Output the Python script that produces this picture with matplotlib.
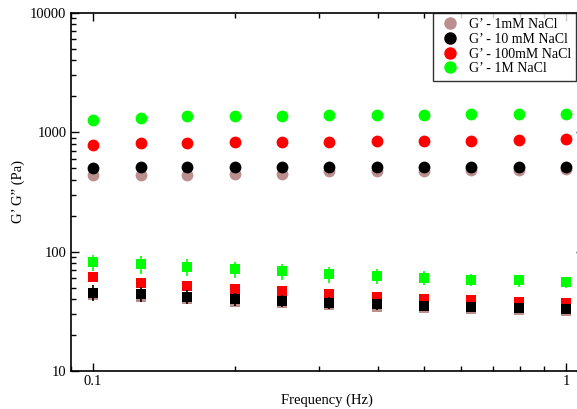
import numpy as np
import matplotlib

matplotlib.use("Agg")
import matplotlib.pyplot as plt
from matplotlib.lines import Line2D
from matplotlib.ticker import LogLocator, FuncFormatter, NullFormatter

plt.rcParams["font.family"] = ["Liberation Serif", "DejaVu Serif"]

# ---------------------------------------------------------------------------
# Data (frequency sweep, 10 points per decade)
# ---------------------------------------------------------------------------
freq = [0.1, 0.126, 0.158, 0.2, 0.251, 0.316, 0.398, 0.501, 0.631, 0.794, 1.0]

labels = ["G’ - 1mM NaCl", "G’ - 10 mM NaCl", "G’ - 100mM NaCl", "G’ - 1M NaCl"]
colors = ["#bc8f8f", "#000000", "#ff0000", "#00ff00"]

# storage modulus G' (circles)
g1_1mM = [434, 440, 440, 445, 450, 470, 470, 475, 480, 485, 490]
g1_10mM = [504, 510, 510, 510, 510, 510, 510, 510, 512, 512, 515]
g1_100mM = [774, 804, 814, 824, 834, 834, 840, 842, 850, 855, 868]
g1_1M = [1259, 1325, 1358, 1366, 1377, 1386, 1400, 1400, 1410, 1420, 1430]

g1_1mM_err = [15, 15, 15, 15, 15, 15, 15, 15, 15, 15, 15]
g1_10mM_err = [32, 30, 30, 30, 30, 30, 30, 30, 30, 30, 30]
g1_100mM_err = [20, 20, 20, 20, 20, 20, 20, 20, 20, 20, 20]
g1_1M_err = [60, 60, 60, 60, 60, 60, 60, 60, 60, 60, 60]

# loss modulus G'' (squares)
g2_1mM = [43, 42, 40, 38, 37, 35.5, 34.5, 33.5, 33, 32.5, 32]
g2_10mM = [45.3, 44.1, 41.9, 40.1, 38.8, 37.3, 36.1, 34.9, 34.3, 33.9, 33.2]
g2_100mM = [61.0, 54.8, 51.1, 49.0, 46.8, 44.0, 42.0, 40.0, 39.0, 38.0, 37.0]
g2_1M = [81.4, 78.0, 74.2, 70.8, 68.1, 64.6, 62.0, 60.6, 58.2, 57.3, 55.5]

g2_1mM_err = [3, 3, 3, 3, 3, 2.5, 2.5, 2.5, 2, 2, 2]
g2_10mM_err = [7, 6, 5.5, 5, 4.7, 4, 3.5, 3, 2.5, 2.5, 2]
g2_100mM_err = [3, 3, 3, 2.5, 2.5, 2.5, 2, 2, 2, 2, 2]
g2_1M_err = [12.5, 13, 12, 11, 10, 9.7, 9, 8, 7, 6.7, 6]

g1_sets = [(g1_1mM, g1_1mM_err), (g1_10mM, g1_10mM_err),
           (g1_100mM, g1_100mM_err), (g1_1M, g1_1M_err)]
g2_sets = [(g2_1mM, g2_1mM_err), (g2_10mM, g2_10mM_err),
           (g2_100mM, g2_100mM_err), (g2_1M, g2_1M_err)]
# G'' squares: black drawn over red
g2_zorder = [3, 5, 4, 4]


def main() -> None:
    fig = plt.figure(figsize=(5.77, 4.09), dpi=100)
    ax = fig.add_axes([70.7 / 577, 1 - 371 / 409, (584 - 70.7) / 577, (371 - 12.7) / 409])

    for (y, e), c in zip(g1_sets, colors):
        ax.errorbar(freq, y, yerr=e, fmt="o", color=c, ecolor=c, markersize=8.5,
                    markeredgewidth=0, elinewidth=1.2, capsize=5.0, capthick=1.2,
                    zorder=3)

    for (y, e), c, z in zip(g2_sets, colors, g2_zorder):
        ax.errorbar(freq, y, yerr=e, fmt="s", color=c, ecolor=c, markersize=7.5,
                    markeredgewidth=0, elinewidth=1.2, capsize=4.0, capthick=1.2,
                    zorder=z)

    ax.set_xscale("log")
    ax.set_yscale("log")
    ax.set_xlim(0.0897, 10 ** ((584 - 566) / 473))
    ax.set_ylim(10, 10000)

    fmt = FuncFormatter(lambda v, p: f"{v:g}")
    ax.xaxis.set_major_formatter(fmt)
    ax.yaxis.set_major_formatter(fmt)
    ax.xaxis.set_minor_locator(LogLocator(base=10, subs=np.arange(2, 10)))
    ax.yaxis.set_minor_locator(LogLocator(base=10, subs=np.arange(2, 10)))
    ax.xaxis.set_minor_formatter(NullFormatter())
    ax.yaxis.set_minor_formatter(NullFormatter())

    ax.tick_params(which="both", direction="in", top=True, right=True,
                   labelsize=10.5, width=1.0, pad=3)
    ax.tick_params(which="major", length=5.8)
    ax.tick_params(which="minor", length=3.4)
    for sp in ax.spines.values():
        sp.set_linewidth(1.2)

    ax.set_xlabel("Frequency (Hz)", fontsize=10.5, labelpad=4)
    ax.set_ylabel("G’ G” (Pa)", fontsize=10.5, labelpad=4)

    handles = [Line2D([], [], linestyle="none", marker="o", markersize=9,
                      markeredgewidth=0, color=c) for c in colors]
    leg = ax.legend(handles, labels, loc="upper left", bbox_to_anchor=(0.706, 1.0),
                    borderaxespad=0, fontsize=10, frameon=True, fancybox=False,
                    borderpad=0.4, labelspacing=0.12, handlelength=1.6,
                    handletextpad=0.55)
    leg.get_frame().set_edgecolor("black")
    leg.get_frame().set_linewidth(1.0)
    leg.set_zorder(10)

    fig.savefig("out.png", dpi=100)
    plt.close(fig)


if __name__ == "__main__":
    main()
